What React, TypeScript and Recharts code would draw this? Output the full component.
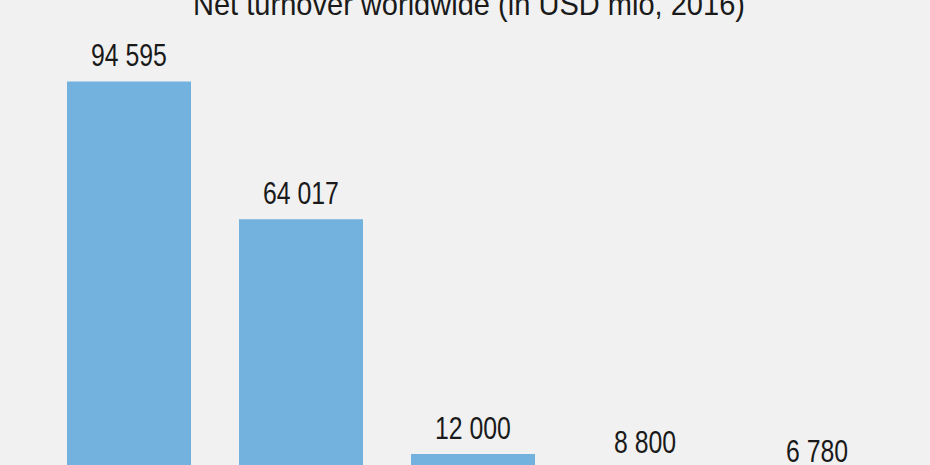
import React from "react";
import { BarChart, Bar, XAxis, YAxis, LabelList } from "recharts";

const categories = ["A", "B", "C", "D", "E"];
const values = [94595, 64017, 12000, 8800, 6780];
const title = "Net turnover worldwide (in USD mio, 2016)";

const data = categories.map((c, i) => ({ name: c, value: values[i] }));

const fmt = (v: any) => String(v).replace(/\B(?=(\d{3})+(?!\d))/g, " ");
const FONT = "'Liberation Sans', Arial, sans-serif";

const ValueLabel = (props: any) => {
  const { x, y, width, value } = props;
  const cx = Number(x) + Number(width) / 2;
  const by = Number(y) - 15;
  return (
    <text
      transform={`translate(${cx},${by}) scale(0.8,1)`}
      textAnchor="middle"
      fontFamily={FONT}
      fontSize={31}
      fill="#1a1a1a"
    >
      {fmt(value)}
    </text>
  );
};

export default function App() {
  return (
    <div
      style={{
        position: "fixed",
        left: 0,
        top: 0,
        width: 930,
        height: 465,
        overflow: "hidden",
        background: "#f1f1f1",
      }}
    >
      <svg width={930} height={40} style={{ position: "absolute", left: 0, top: 0 }}>
        <text
          x={193}
          y={15}
          textLength={552}
          lengthAdjust="spacingAndGlyphs"
          fontFamily={FONT}
          fontSize={32}
          fill="#1a1a1a"
        >
          {title}
        </text>
      </svg>
      <div style={{ position: "absolute", left: 0, top: 0 }}>
        <BarChart
          width={930}
          height={520}
          data={data}
          margin={{ top: 57, right: 27, bottom: 12, left: 43 }}
        >
          <XAxis dataKey="name" hide />
          <YAxis hide domain={[0, 100000]} allowDataOverflow />
          <Bar dataKey="value" fill="#73b1de" barSize={124} isAnimationActive={false}>
            <LabelList dataKey="value" content={<ValueLabel />} />
          </Bar>
        </BarChart>
      </div>
    </div>
  );
}
